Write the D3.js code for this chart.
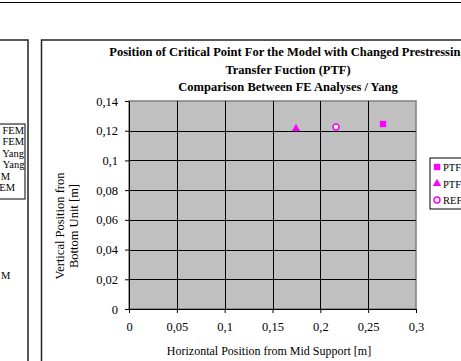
<!DOCTYPE html>
<html><head><meta charset="utf-8">
<script src="https://cdn.jsdelivr.net/npm/d3@7"></script>
<style>
body{margin:0;background:#fff;overflow:hidden}
svg{display:block}
text{font-family:"Liberation Serif","Times New Roman",serif;fill:#000}
</style>
</head><body>
<script>
// ---- data ----
const seriesNames = ["PTF", "PTF", "REF"];
const seriesSymbols = ["square", "triangle", "circle"];
const xValues = [0.2655, 0.1746, 0.2164];
const yValues = [0.1245, 0.1215, 0.1225];
const xTicks = [0, 0.05, 0.1, 0.15, 0.2, 0.25, 0.3];
const xTickLabels = ["0", "0,05", "0,1", "0,15", "0,2", "0,25", "0,3"];
const yTicks = [0, 0.02, 0.04, 0.06, 0.08, 0.1, 0.12, 0.14];
const yTickLabels = ["0", "0,02", "0,04", "0,06", "0,08", "0,1", "0,12", "0,14"];
const titleLines = ["Position of Critical Point For the Model with Changed Prestressing",
                    "Transfer Fuction (PTF)",
                    "Comparison Between FE Analyses / Yang"];
const xTitle = "Horizontal Position from Mid Support [m]";
const yTitleLines = ["Vertical Position fron", "Bottom Unit [m]"];
// neighbouring (cut-off) chart legend: visible fragments
const leftLegend = ["FEM", "FEM", "Yang", "Yang", "M", "EM"];
const leftExtraText = "M";

const W = 461, H = 361;
const svg = d3.select("body").append("svg").attr("width", W).attr("height", H);

// page line at top
svg.append("line").attr("x1", 0).attr("x2", W).attr("y1", 2.5).attr("y2", 2.5)
  .attr("stroke", "#000").attr("stroke-width", 1.2);

// left (cut-off) panel
svg.append("rect").attr("x", -10).attr("y", 40).attr("width", 38).attr("height", 340)
  .attr("fill", "#fff").attr("stroke", "#222").attr("stroke-width", 1.5);
const llg = svg.append("g");
llg.append("rect").attr("x", -10).attr("y", 124).attr("width", 35).attr("height", 75)
  .attr("fill", "#fff").attr("stroke", "#000").attr("stroke-width", 1);
const leftEnds = [24, 24, 24, 24.5, 10, 15];
leftLegend.forEach((t, i) => {
  llg.append("text").attr("x", leftEnds[i]).attr("y", 134 + i * 11.4).attr("text-anchor", "end")
    .attr("font-size", 10.5).text(t);
});
svg.append("text").attr("x", 1).attr("y", 279)
  .attr("font-size", 10.5).text(leftExtraText);

// right panel
svg.append("rect").attr("x", 41.5).attr("y", 40).attr("width", 440).attr("height", 340)
  .attr("fill", "#fff").attr("stroke", "#222").attr("stroke-width", 1.5);

const m = {left: 129, right: 416, top: 101, bottom: 309};
const x = d3.scaleLinear().domain([0, 0.3]).range([m.left, m.right]);
const y = d3.scaleLinear().domain([0, 0.14]).range([m.bottom, m.top]);

// plot area
svg.append("rect").attr("x", m.left).attr("y", m.top)
  .attr("width", m.right - m.left).attr("height", m.bottom - m.top)
  .attr("fill", "#C0C0C0").attr("stroke", "#808080").attr("stroke-width", 1.5);

// gridlines
svg.append("g").selectAll("line").data(yTicks.slice(1, -1)).join("line")
  .attr("x1", m.left).attr("x2", m.right)
  .attr("y1", d => Math.round(y(d)) + 0.5).attr("y2", d => Math.round(y(d)) + 0.5)
  .attr("stroke", "#000").attr("stroke-width", 1);
svg.append("g").selectAll("line").data(xTicks.slice(1, -1)).join("line")
  .attr("y1", m.top).attr("y2", m.bottom)
  .attr("x1", d => Math.round(x(d)) + 0.5).attr("x2", d => Math.round(x(d)) + 0.5)
  .attr("stroke", "#000").attr("stroke-width", 1);

// axes
const xAxis = svg.append("g").attr("transform", `translate(0,${m.bottom})`)
  .call(d3.axisBottom(x).tickValues(xTicks).tickFormat((d, i) => xTickLabels[i])
    .tickSize(4).tickSizeOuter(0).tickPadding(9));
const yAxis = svg.append("g").attr("transform", `translate(${m.left},0)`)
  .call(d3.axisLeft(y).tickValues(yTicks).tickFormat((d, i) => yTickLabels[i])
    .tickSize(4).tickSizeOuter(0).tickPadding(7));
[xAxis, yAxis].forEach(a => {
  a.selectAll("text").attr("font-size", 12.5).attr("font-family", '"Liberation Serif",serif');
  a.selectAll("line,path").attr("stroke", "#000");
});

// title
titleLines.forEach((t, i) => {
  svg.append("text").attr("x", 288).attr("y", 56 + i * 17.5).attr("text-anchor", "middle")
    .attr("font-size", 12.5).attr("font-weight", "bold").text(t);
});

// axis titles
svg.append("text").attr("x", 269).attr("y", 355).attr("text-anchor", "middle")
  .attr("font-size", 12).text(xTitle);
yTitleLines.forEach((t, i) => {
  svg.append("text").attr("transform", `translate(${64 + i * 13.5},226) rotate(-90)`)
    .attr("text-anchor", "middle").attr("font-size", 12.5).text(t);
});

// markers
const color = "#FF00FF";
const symType = {square: d3.symbolSquare, triangle: d3.symbolTriangle, circle: d3.symbolCircle};
function drawSym(g, s, cx, cy) {
  if (s === "circle") {
    g.append("circle").attr("cx", cx).attr("cy", cy).attr("r", 3)
      .attr("fill", "#fff").attr("stroke", color).attr("stroke-width", 1.5);
  } else {
    const size = s === "square" ? 40 : 30;
    g.append("path").attr("d", d3.symbol().type(symType[s]).size(size)())
      .attr("transform", `translate(${cx},${cy})`).attr("fill", color);
  }
}
const pts = svg.append("g");
xValues.forEach((v, i) => drawSym(pts, seriesSymbols[i], x(v), y(yValues[i])));

// legend
const lg = svg.append("g");
lg.append("rect").attr("x", 430).attr("y", 158).attr("width", 60).attr("height", 51)
  .attr("fill", "#fff").attr("stroke", "#000").attr("stroke-width", 1);
seriesNames.forEach((n, i) => {
  const cy = 167 + i * 16.5;
  drawSym(lg, seriesSymbols[i], 437, cy);
  lg.append("text").attr("x", 443).attr("y", cy + 4).attr("font-size", 10.5).text(n);
});
</script>
</body></html>
